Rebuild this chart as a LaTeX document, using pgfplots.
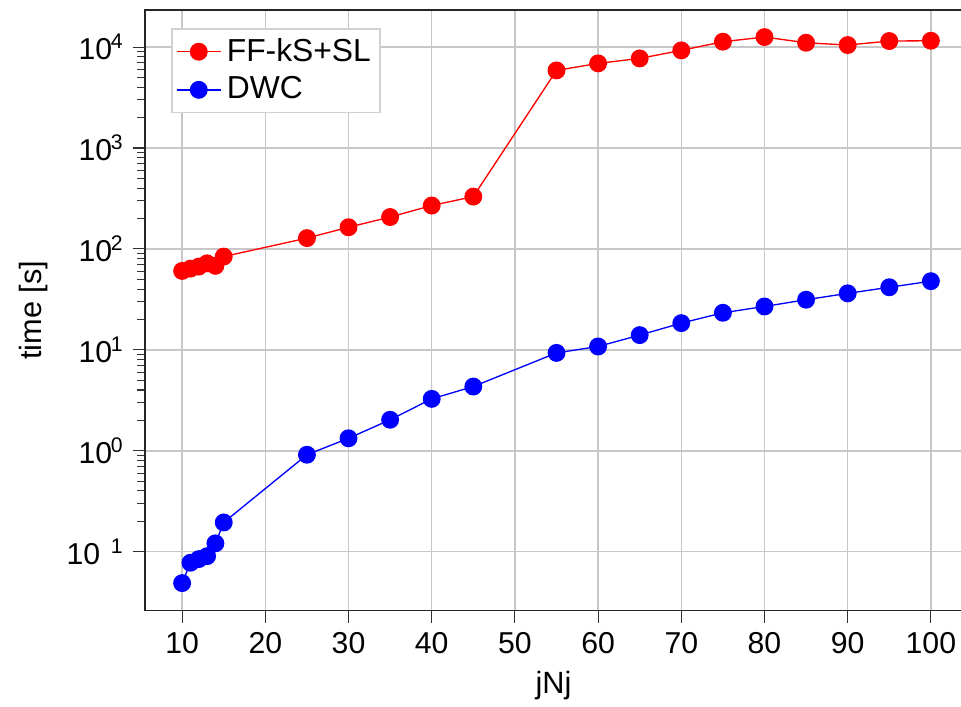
\documentclass[border=0pt]{standalone}
\usepackage{fontspec}
\setmainfont{Liberation Sans}
\usepackage{pgfplots}
\pgfplotsset{compat=1.18}

\begin{document}
\begin{tikzpicture}
\begin{axis}[
  scale only axis,
  width=305.7pt,
  height=224.8pt,
  ymode=log,
  xmin=5.55, xmax=103.75,
  ymin=0.026, ymax=23280,
  xtick={10,20,...,100},
  ytick={0.1,1,10,100,1000,10000},
  yticklabels={10\hspace{0.35em}\textsuperscript{1},
               10\kern-0.5pt\textsuperscript{0},
               10\kern-0.5pt\textsuperscript{1},
               10\kern-0.5pt\textsuperscript{2},
               10\kern-0.5pt\textsuperscript{3},
               10\kern-0.5pt\textsuperscript{4}},
  /pgf/number format/assume math mode=true,
  ticklabel style={font=\fontsize{11.3}{13}\selectfont},
  xtick pos=bottom,
  ytick pos=left,
  tick align=outside,
  major tick length=4.4pt,
  minor tick length=3pt,
  tick style={black!80, line width=0.4pt},
  axis line style={black!85, line width=0.5pt},
  grid=major,
  major grid style={black!22, line width=0.55pt},
  xlabel={jNj},
  ylabel={time [s]},
  label style={font=\fontsize{11.5}{13}\selectfont},
  legend style={at={(axis description cs:0.032,0.97)}, anchor=north west,
    draw=black!18, line width=0.6pt, font=\fontsize{11.9}{13}\selectfont,
    inner sep=1.5pt, row sep=0.3pt},
  legend cell align=left,
  legend image code/.code={
    \draw[mark repeat=2, mark phase=2] plot coordinates {(0pt,0pt) (8.25pt,0pt) (16.5pt,0pt)};
  },
]
\addplot[red, line width=0.5pt, mark=*, mark size=3.1pt, mark options={fill=red, draw=red}]
  coordinates {
  (10,60.5) (11,63.8) (12,66.8) (13,72) (14,68) (15,84)
  (25,128) (30,164) (35,207) (40,269) (45,330)
  (55,5870) (60,6890) (65,7720) (70,9270) (75,11300)
  (80,12560) (85,11030) (90,10470) (95,11470) (100,11550)
  };
\addlegendentry{FF-kS+SL}
\addplot[blue, line width=0.5pt, mark=*, mark size=3.1pt, mark options={fill=blue, draw=blue}]
  coordinates {
  (10,0.0489) (11,0.0778) (12,0.0845) (13,0.0904) (14,0.121) (15,0.195)
  (25,0.914) (30,1.33) (35,2.03) (40,3.27) (45,4.33)
  (55,9.33) (60,10.8) (65,14.0) (70,18.4) (75,23.3)
  (80,26.9) (85,31.4) (90,36.3) (95,41.7) (100,47.9)
  };
\addlegendentry{DWC}
\coordinate (ll) at (rel axis cs:0,0);
\coordinate (ur) at (rel axis cs:1,1);
\end{axis}
\pgfresetboundingbox
\path ([shift={(-54.3pt,-36.0pt)}]ll) rectangle ([shift={(-0.4pt,3.75pt)}]ur);
\end{tikzpicture}
\end{document}
